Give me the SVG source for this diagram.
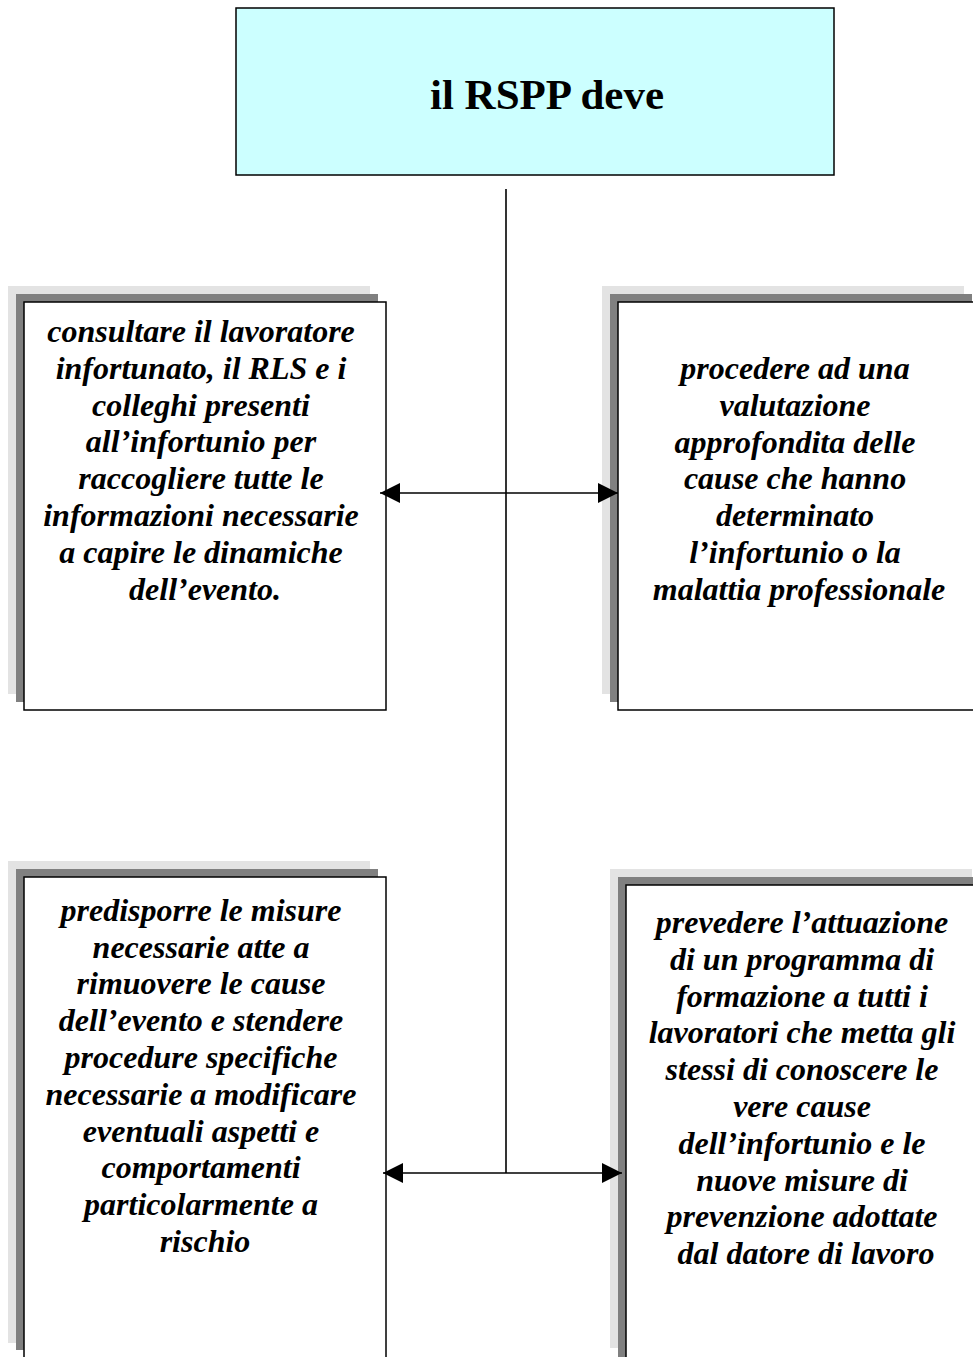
<svg xmlns="http://www.w3.org/2000/svg" width="973" height="1357" viewBox="0 0 973 1357">
  <style>
    .box { fill: #ffffff; stroke: #000000; stroke-width: 1.5; }
    .title-box { fill: #ccffff; stroke: #000000; stroke-width: 1.5; }
    .shade-light { fill: #e3e3e3; }
    .shade-dark { fill: #808080; }
    .title { font-family: "Liberation Serif", "Times New Roman", serif; font-weight: bold; font-size: 43px; fill: #000; }
    .body { font-family: "Liberation Serif", "Times New Roman", serif; font-weight: bold; font-style: italic; font-size: 32px; fill: #000; }
    .conn { stroke: #000000; stroke-width: 1.6; fill: none; }
  </style>
  <defs>
    <marker id="arrowhead" viewBox="0 0 20 20" refX="20" refY="10" markerWidth="20" markerHeight="20" markerUnits="userSpaceOnUse" orient="auto-start-reverse">
      <path d="M0,0 L20,10 L0,20 Z" fill="#000000"/>
    </marker>
  </defs>

  <rect width="973" height="1357" fill="#ffffff"/>

  <!-- heading -->
  <g id="node-rspp">
    <rect class="title-box" x="236" y="8" width="598" height="167"/>
    <text class="title" x="547" y="109" text-anchor="middle">il RSPP deve</text>
  </g>

  <!-- upper left action -->
  <g id="node-consultare">
    <rect class="shade-light" x="8" y="286" width="362" height="408"/>
    <rect class="shade-dark" x="16" y="294" width="362" height="408"/>
    <rect class="box" x="24" y="302" width="362" height="408"/>
    <text class="body" text-anchor="middle">
      <tspan x="205" y="342">consultare il lavoratore</tspan>
      <tspan x="205" y="378.8">infortunato, il RLS e i</tspan>
      <tspan x="205" y="415.6">colleghi presenti</tspan>
      <tspan x="205" y="452.4">all’infortunio per</tspan>
      <tspan x="205" y="489.2">raccogliere tutte le</tspan>
      <tspan x="205" y="526">informazioni necessarie</tspan>
      <tspan x="205" y="562.8">a capire le dinamiche</tspan>
      <tspan x="205" y="599.6">dell’evento.</tspan>
    </text>
  </g>

  <!-- upper right action -->
  <g id="node-procedere">
    <rect class="shade-light" x="602" y="286" width="362" height="408"/>
    <rect class="shade-dark" x="610" y="294" width="362" height="408"/>
    <rect class="box" x="618" y="302" width="362" height="408"/>
    <text class="body" text-anchor="middle">
      <tspan x="799" y="379">procedere ad una</tspan>
      <tspan x="799" y="415.8">valutazione</tspan>
      <tspan x="799" y="452.6">approfondita delle</tspan>
      <tspan x="799" y="489.4">cause che hanno</tspan>
      <tspan x="799" y="526.2">determinato</tspan>
      <tspan x="799" y="563">l’infortunio o la</tspan>
      <tspan x="799" y="599.8">malattia professionale</tspan>
    </text>
  </g>

  <!-- lower left action -->
  <g id="node-predisporre">
    <rect class="shade-light" x="8" y="861" width="362" height="482"/>
    <rect class="shade-dark" x="16" y="869" width="362" height="481"/>
    <rect class="box" x="24" y="877" width="362" height="500"/>
    <text class="body" text-anchor="middle">
      <tspan x="205" y="920.8">predisporre le misure</tspan>
      <tspan x="205" y="957.6">necessarie atte a</tspan>
      <tspan x="205" y="994.4">rimuovere le cause</tspan>
      <tspan x="205" y="1031.2">dell’evento e stendere</tspan>
      <tspan x="205" y="1068">procedure specifiche</tspan>
      <tspan x="205" y="1104.8">necessarie a modificare</tspan>
      <tspan x="205" y="1141.6">eventuali aspetti e</tspan>
      <tspan x="205" y="1178.4">comportamenti</tspan>
      <tspan x="205" y="1215.2">particolarmente a</tspan>
      <tspan x="205" y="1252">rischio</tspan>
    </text>
  </g>

  <!-- lower right action -->
  <g id="node-prevedere">
    <rect class="shade-light" x="610" y="869" width="362" height="479"/>
    <rect class="shade-dark" x="618" y="877" width="362" height="500"/>
    <rect class="box" x="626" y="885" width="362" height="500"/>
    <text class="body" text-anchor="middle">
      <tspan x="806" y="933">prevedere l’attuazione</tspan>
      <tspan x="806" y="969.8">di un programma di</tspan>
      <tspan x="806" y="1006.6">formazione a tutti i</tspan>
      <tspan x="806" y="1043.4">lavoratori che metta gli</tspan>
      <tspan x="806" y="1080.2">stessi di conoscere le</tspan>
      <tspan x="806" y="1117">vere cause</tspan>
      <tspan x="806" y="1153.8">dell’infortunio e le</tspan>
      <tspan x="806" y="1190.6">nuove misure di</tspan>
      <tspan x="806" y="1227.4">prevenzione adottate</tspan>
      <tspan x="806" y="1264.2">dal datore di lavoro</tspan>
    </text>
  </g>

  <!-- connectors -->
  <g id="connectors">
    <line class="conn" x1="506" y1="189" x2="506" y2="1173"/>
    <line class="conn" x1="380" y1="493" x2="618" y2="493" marker-start="url(#arrowhead)" marker-end="url(#arrowhead)"/>
    <line class="conn" x1="383" y1="1173" x2="622" y2="1173" marker-start="url(#arrowhead)" marker-end="url(#arrowhead)"/>
  </g>
</svg>
